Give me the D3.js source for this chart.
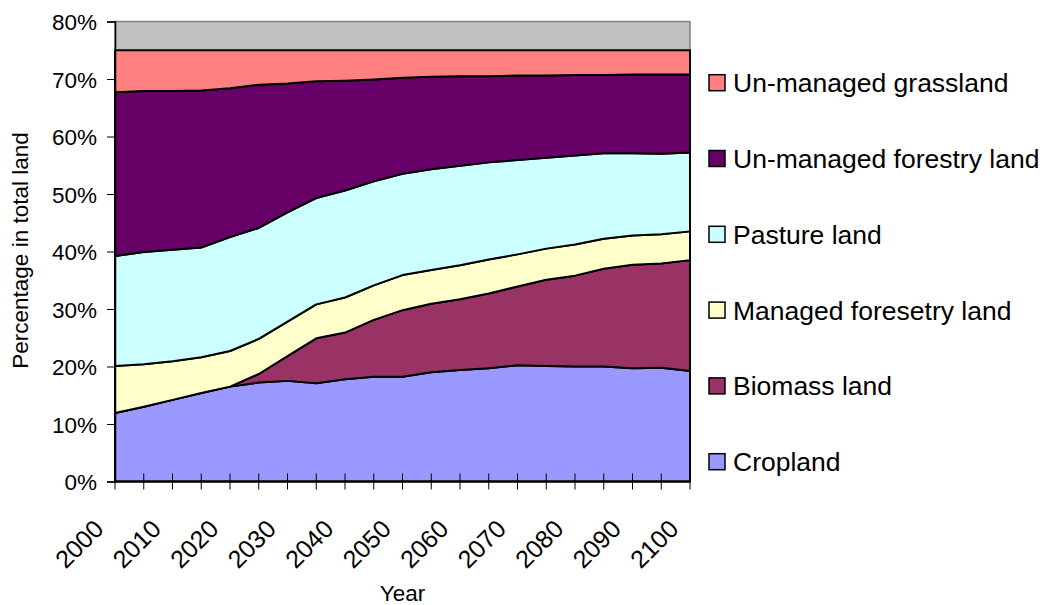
<!DOCTYPE html>
<html>
<head>
<meta charset="utf-8">
<script src="https://cdn.jsdelivr.net/npm/d3@7"></script>
<style>
  body { margin: 0; background: #fff; }
  text { font-family: "Liberation Sans", Arial, sans-serif; fill: #000; }
</style>
</head>
<body>
<svg width="1047" height="605"></svg>
<script>
// years, every 5 years
const years = d3.range(2000, 2101, 5)

// shares of total land (%), bottom layer first
const cropland = [11.9, 13.0, 14.2, 15.4, 16.5, 17.2, 17.5, 17.1, 17.8, 18.2, 18.2, 19.0, 19.4, 19.7, 20.2, 20.1, 20.0, 20.0, 19.7, 19.8, 19.2]
const biomass = [0, 0, 0, 0, 0, 1.5, 4.3, 7.8, 8.1, 9.9, 11.6, 11.9, 12.3, 13.0, 13.7, 15.0, 15.8, 17.0, 18.0, 18.1, 19.3]
const managedForestry = [8.2, 7.4, 6.7, 6.2, 6.2, 6.1, 6.0, 5.9, 6.1, 6.0, 6.1, 5.9, 5.9, 5.9, 5.6, 5.4, 5.4, 5.2, 5.1, 5.1, 5.0]
const pasture = [19.1, 19.5, 19.4, 19.1, 19.8, 19.3, 19.0, 18.5, 18.6, 18.1, 17.6, 17.5, 17.3, 16.9, 16.4, 15.8, 15.5, 14.9, 14.3, 14.0, 13.7]
const unmanagedForestry = [28.5, 28.0, 27.6, 27.3, 25.9, 24.9, 22.4, 20.3, 19.1, 17.7, 16.7, 16.1, 15.6, 15.0, 14.7, 14.3, 14.0, 13.6, 13.7, 13.8, 13.6]
const unmanagedGrassland = [7.3, 7.1, 7.1, 7.0, 6.6, 6.0, 5.8, 5.4, 5.3, 5.1, 4.8, 4.6, 4.5, 4.5, 4.4, 4.4, 4.3, 4.3, 4.2, 4.2, 4.2]

const seriesNames = ["Cropland", "Biomass land", "Managed foresetry land", "Pasture land", "Un-managed forestry land", "Un-managed grassland"]
const seriesValues = [cropland, biomass, managedForestry, pasture, unmanagedForestry, unmanagedGrassland]
const seriesColors = ["#9999FF", "#993366", "#FFFFCC", "#CCFFFF", "#660066", "#FF8080"]

const yTicks = [0, 10, 20, 30, 40, 50, 60, 70, 80]
const xLabels = d3.range(2000, 2101, 10)

var svg = d3.select("svg")
var plot = { left: 115, right: 690, top: 21.5, bottom: 481.5 }

var x = d3.scaleLinear().domain([2000, 2100]).range([plot.left, plot.right])
var y = d3.scaleLinear().domain([0, 80]).range([plot.bottom, plot.top])

// table for d3.stack
let table = years.map((yr, i) => {
  let row = { year: yr }
  seriesNames.forEach((n, j) => row[n] = seriesValues[j][i])
  return row
})
let stacked = d3.stack().keys(seriesNames)(table)

// plot background (excel grey)
svg.append("rect")
  .attr("x", plot.left).attr("y", plot.top)
  .attr("width", plot.right - plot.left).attr("height", plot.bottom - plot.top)
  .attr("fill", "#C0C0C0")
  .attr("stroke", "#808080")
  .attr("stroke-width", 1.5)

let area = d3.area()
  .x(d => x(d.data.year))
  .y0(d => y(d[0]))
  .y1(d => y(d[1]))

svg.append("g")
  .selectAll("path")
  .data(stacked)
  .enter()
  .append("path")
  .attr("d", area)
  .attr("fill", (d, i) => seriesColors[i])
  .attr("stroke", "#000")
  .attr("stroke-width", 2)
  .attr("stroke-linejoin", "round")

// y axis
let yAxis = svg.append("g")
  .attr("transform", `translate(${plot.left},0)`)
  .call(d3.axisLeft(y).tickValues(yTicks).tickFormat(d => d + "%").tickSize(8).tickPadding(10))
yAxis.select(".domain").attr("stroke", "#000").attr("stroke-width", 1.5)
yAxis.selectAll(".tick line").attr("stroke", "#000")
yAxis.selectAll("text").style("font-size", "22.5px").attr("dy", "0.36em")

// x axis, ticks cross the axis line
let xAxis = svg.append("g")
  .attr("transform", `translate(0,${plot.bottom})`)
xAxis.append("line")
  .attr("x1", plot.left).attr("x2", plot.right)
  .attr("stroke", "#000").attr("stroke-width", 2)
xAxis.selectAll("line.tick")
  .data(years)
  .enter()
  .append("line")
  .attr("class", "tick")
  .attr("x1", d => x(d)).attr("x2", d => x(d))
  .attr("y1", -8).attr("y2", 8)
  .attr("stroke", "#000")
xAxis.selectAll("text")
  .data(xLabels)
  .enter()
  .append("text")
  .attr("transform", d => `translate(${x(d) - 10},${49}) rotate(-45)`)
  .attr("text-anchor", "end")
  .style("font-size", "25px")
  .text(d => d)

// axis titles
svg.append("text")
  .attr("transform", `translate(28,${(plot.top + plot.bottom) / 2 - 1}) rotate(-90)`)
  .attr("text-anchor", "middle")
  .style("font-size", "22.5px")
  .text("Percentage in total land")

svg.append("text")
  .attr("x", (plot.left + plot.right) / 2)
  .attr("y", 601)
  .attr("text-anchor", "middle")
  .style("font-size", "22.5px")
  .text("Year")

// legend, top entry = top layer
let legend = svg.append("g")
  .selectAll("g")
  .data(seriesNames.slice().reverse())
  .enter()
  .append("g")
  .attr("transform", (d, i) => `translate(709,${82.7 + i * 75.8})`)

legend.append("rect")
  .attr("x", 0).attr("y", -8)
  .attr("width", 16).attr("height", 16)
  .attr("fill", d => seriesColors[seriesNames.indexOf(d)])
  .attr("stroke", "#000")
  .attr("stroke-width", 1.5)

legend.append("text")
  .attr("x", 24)
  .attr("dy", "0.36em")
  .style("font-size", "26.5px")
  .text(d => d)
</script>
</body>
</html>
